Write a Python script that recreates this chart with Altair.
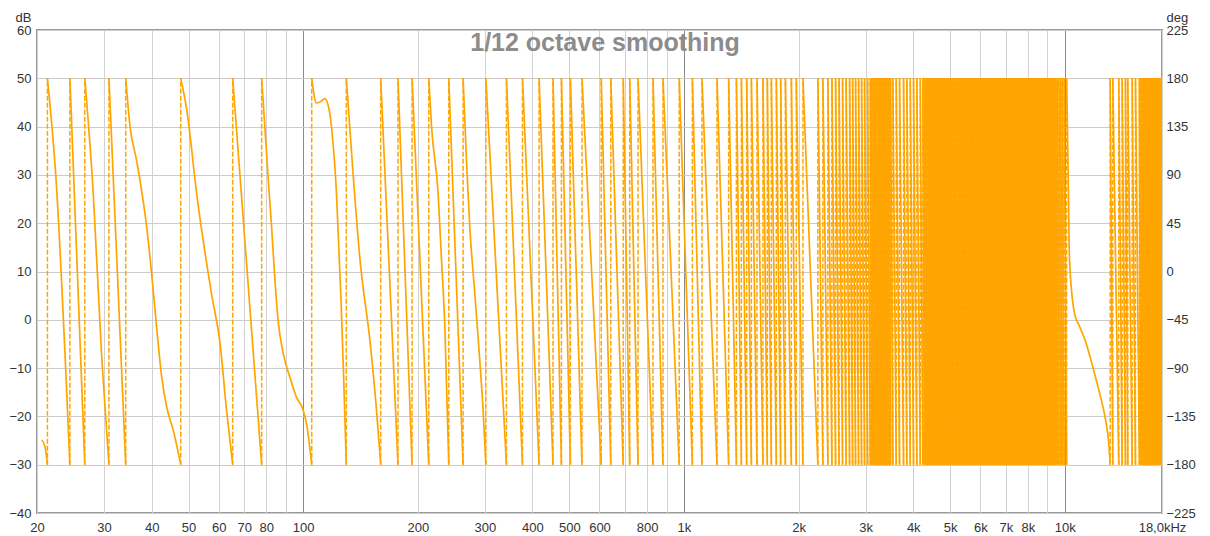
import altair as alt
import pandas as pd

# ---- data (frequency in Hz, phase in degrees) ----
# frequencies where the wrapped phase jumps from -180 back to +180
wraps_low = [21.3, 24.4, 26.7, 30.9, 34.2, 47.7, 65.3, 77.8, 105.3, 129.8,
             159.8, 177.4, 193.2, 213.7, 241.2, 263.0, 301.8, 341.8, 376.6,
             416.4, 453.0, 476.6, 503.2, 539.8, 606.3, 642.3, 692.6, 720.3,
             757.4, 829.1, 880.7, 971.5, 1052, 1115, 1221, 1310, 1373, 1415,
             1461, 1503, 1555, 1612, 1655, 1696, 1748, 1794, 1846, 1914, 1972]
wraps_mid = [2053, 2247, 2316, 2387, 2446, 2501, 2554, 2609, 2665, 2722, 2772,
             2822, 2874, 2927, 2980, 3035, 3085, 3110, 3135, 3160, 3185, 3210,
             3235, 3260, 3285, 3310, 3335, 3360, 3385, 3410, 3435, 3460, 3487,
             3536, 3609, 3682, 3772, 3848, 3928, 4007, 4088, 4173, 4239]
wraps_dense = [4280, 4310, 4340, 4370, 4400, 4430, 4460, 4490, 4520, 4550,
               4580, 4610, 4640, 4670, 4700, 4730, 4760, 4790, 4820, 4850,
               4880, 4910, 4940, 4970, 5000, 5040,
               5080, 5120, 5160, 5200, 5240, 5280, 5320, 5360, 5400, 5440,
               5480, 5520, 5560, 5600, 5640, 5680, 5720, 5760, 5800, 5840,
               5880, 5920, 5960, 6000, 6040, 6080, 6120, 6160, 6200, 6240,
               6280, 6320, 6360, 6400, 6440, 6480, 6520, 6560, 6600, 6640,
               6680, 6720, 6760, 6800, 6840, 6880, 6920, 6960, 7000, 7040,
               7080, 7120, 7160, 7200, 7240, 7280, 7320, 7360, 7400, 7440,
               7480, 7520, 7560, 7600, 7640, 7680, 7720, 7760, 7800, 7840,
               7880, 7920, 7960, 8000, 8040, 8080, 8120, 8160, 8200, 8240,
               8280, 8320, 8360, 8400, 8440, 8480, 8520, 8560, 8600, 8640,
               8680, 8720, 8760, 8800, 8840, 8880, 8920, 8960, 9000, 9040,
               9080, 9120, 9160, 9200, 9240, 9280, 9320, 9360, 9400, 9440,
               9480]
wraps_high = [9560, 9650, 9750, 9850, 9960, 10110, 13158, 13366, 13859, 14147,
              14432, 14634, 15029, 15332, 15700, 15820, 15940, 16060, 16180,
              16300, 16420, 16540, 16660, 16780, 16900, 17020, 17140, 17260,
              17380, 17500, 17620, 17740, 17860, 17980]

# start of the curve (before the first wrap)
start_f = [20.58, 20.99]
start_deg = [-157, -163]
# end of the curve
end_f = 18000
end_deg = 120

# interior points of the wider segments
curve_f = [22.4,
           28.1, 29.6,
           35.1, 36.5, 38.8, 40.0, 41.2, 42.5, 43.8, 45.6,
           49.5, 52.5, 57.4, 60.5, 62.9,
           79.3, 80.9, 82.6, 84.2, 85.9, 88.6, 92.2, 96.0, 100.0, 102.4,
           108.4, 110.8, 114.0, 117.5, 119.8, 122.3, 124.0, 126.0, 127.7,
           135.4, 141.0, 150.0, 155.8,
           217.3, 226.1, 230.8, 235.5,
           268.4, 273.8, 282.2, 290.8, 296.8,
           10209, 10289, 10605, 10931, 11383, 11845, 12334, 12790, 13047]
curve_deg = [90,
             73, -82,
             135, 104, 42, -2, -51, -98, -126, -148,
             150, 73, -20, -67, -129,
             135, 88, 42, -5, -45, -76, -98, -117, -129, -145,
             157, 158, 161, 147, 119, 73, 23, -36, -98,
             88, 11, -67, -129,
             135, 73, 11, -51,
             104, 42, -20, -82, -129,
             88, 11, -39, -51, -67, -89, -113, -138, -160]

title_text = "1/12 octave smoothing"

# ---- build tables ----
wraps = wraps_low + wraps_mid + wraps_dense + wraps_high
rows = []
for f, d in zip(start_f, start_deg):
    rows.append({"seg": 0, "f": f, "deg": d})
rows.append({"seg": 0, "f": wraps[0], "deg": -180})
for k, lo in enumerate(wraps):
    hi = wraps[k + 1] if k + 1 < len(wraps) else None
    rows.append({"seg": k + 1, "f": lo, "deg": 180})
    for f, d in zip(curve_f, curve_deg):
        if f > lo and (hi is None or f < hi):
            rows.append({"seg": k + 1, "f": f, "deg": d})
    if hi is not None:
        rows.append({"seg": k + 1, "f": hi, "deg": -180})
    else:
        rows.append({"seg": k + 1, "f": end_f, "deg": end_deg})
phase_df = pd.DataFrame(rows)
wrap_df = pd.DataFrame({"f": wraps, "lo": [-180] * len(wraps), "hi": [180] * len(wraps)})
db_df = pd.DataFrame({"db": [-40, 60]})
title_df = pd.DataFrame({"t": [title_text]})

FONT = "Liberation Sans"
ORANGE = "#FFA500"
x_ticks = [20, 30, 40, 50, 60, 70, 80, 90, 100, 200, 300, 400, 500, 600, 700,
           800, 900, 1000, 2000, 3000, 4000, 5000, 6000, 7000, 8000, 9000,
           10000, 18000]
label_expr = ("(datum.value == 90 || datum.value == 700 || datum.value == 900 || "
              "datum.value == 9000) ? '' : datum.value >= 18000 ? '18,0kHz' : "
              "datum.value >= 1000 ? (datum.value / 1000) + 'k' : datum.value")

x_scale = alt.Scale(type="log", domain=[20, 18000], nice=False)
x_axis = alt.Axis(values=x_ticks, labelExpr=label_expr, title=None, ticks=False,
                  domain=False, labelOverlap=False, labelFlush=False, labelBound=False,
                  labelFont=FONT, labelFontSize=13, labelColor="#333333",
                  labelPadding=8, grid=True,
                  gridColor={"condition": {"test": "datum.value == 100 || datum.value == 1000 || datum.value == 10000",
                                           "value": "#8a8a8a"},
                             "value": "#d2d2d2"})

deg_scale = alt.Scale(domain=[-225, 225], nice=False, zero=False)
deg_axis = alt.Axis(orient="right", values=list(range(-225, 226, 45)), title="deg",
                    titleAngle=0, titleAlign="left", titleBaseline="alphabetic",
                    titleX=4, titleY=-9, titleFont=FONT, titleFontSize=13,
                    titleFontWeight="normal", titleColor="#333333",
                    ticks=False, domain=False, labelFont=FONT, labelFontSize=13,
                    labelColor="#333333", labelPadding=4, grid=True,
                    gridColor="#cccccc", labelOverlap=False, labelFlush=False,
                    labelBound=False)

db_layer = alt.Chart(db_df).mark_point(opacity=0).encode(
    y=alt.Y("db:Q", scale=alt.Scale(domain=[-40, 60], nice=False, zero=False),
            axis=alt.Axis(orient="left", values=list(range(-40, 61, 10)), title="dB",
                          titleAngle=0, titleAlign="right", titleBaseline="alphabetic",
                          titleX=-6, titleY=-9, titleFont=FONT, titleFontSize=13,
                          titleFontWeight="normal", titleColor="#333333",
                          ticks=False, domain=False, grid=False, labelFont=FONT,
                          labelFontSize=13, labelColor="#333333", labelPadding=6,
                          labelOverlap=False, labelFlush=False, labelBound=False))
)

line_layer = alt.Chart(phase_df).mark_line(color=ORANGE, strokeWidth=1.7,
                                           interpolate="monotone", clip=True).encode(
    x=alt.X("f:Q", scale=x_scale, axis=x_axis),
    y=alt.Y("deg:Q", scale=deg_scale, axis=deg_axis),
    detail="seg:N",
)

dash_layer = alt.Chart(wrap_df).mark_rule(color=ORANGE, strokeWidth=1.5,
                                          strokeDash=[5, 2], clip=True).encode(
    x=alt.X("f:Q", scale=x_scale),
    y=alt.Y("lo:Q", scale=deg_scale),
    y2="hi:Q",
)

phase_layers = alt.layer(line_layer, dash_layer)

title_layer = alt.Chart(title_df).mark_text(font=FONT, fontSize=25, fontWeight="bold",
                                            color="#8c8c8c", baseline="middle",
                                            align="center").encode(
    x=alt.value(568), y=alt.value(13), text="t:N")

chart = alt.layer(db_layer, phase_layers, title_layer).resolve_scale(
    y="independent"
).properties(
    width=1125, height=483,
    padding={"left": 37, "top": 30, "right": 48, "bottom": 23},
    autosize=alt.AutoSizeParams(type="none"),
    background="white",
).configure_view(stroke="#9a9a9a", strokeWidth=2)

chart.save("out.html", embed_options={"renderer": "svg", "actions": False})
